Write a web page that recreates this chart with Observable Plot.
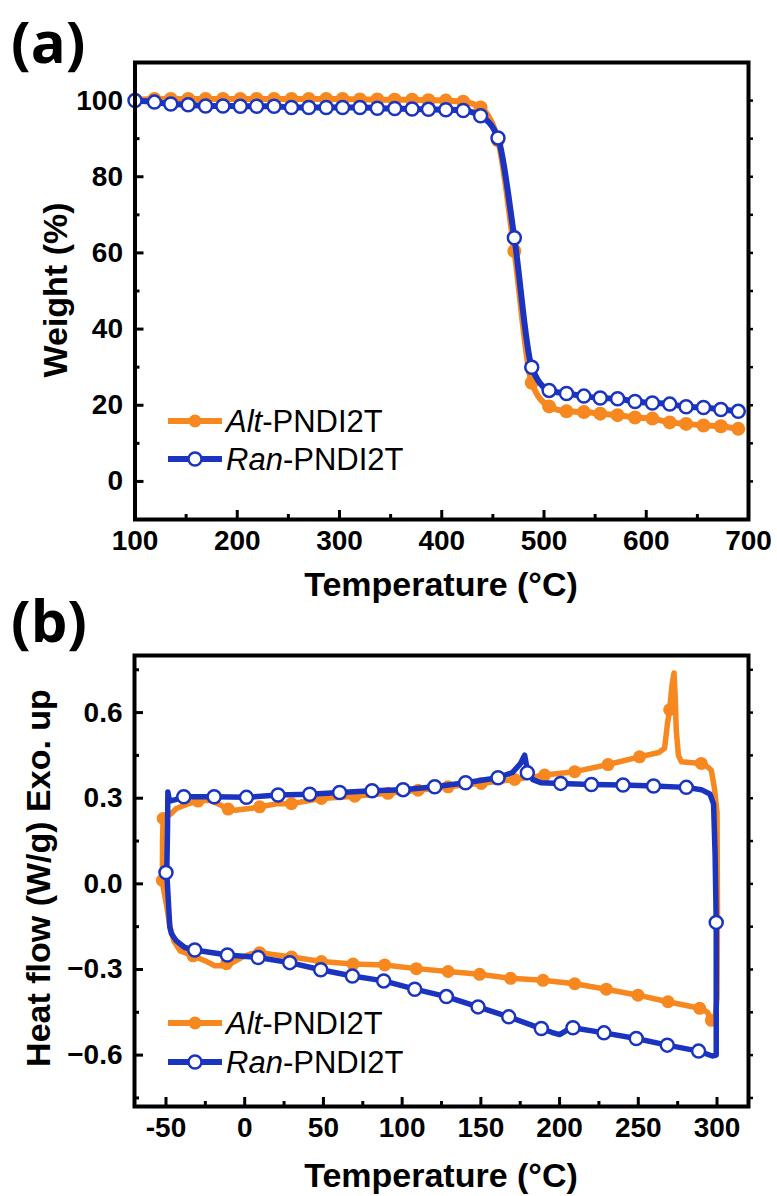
<!DOCTYPE html>
<html><head><meta charset="utf-8">
<script src="https://cdn.jsdelivr.net/npm/d3@7"></script>
<script src="https://cdn.jsdelivr.net/npm/@observablehq/plot@0.6"></script>
<style>
html,body{margin:0;padding:0;background:#fff;}
#wrap{position:relative;width:777px;height:1196px;overflow:hidden;background:#fff;}
#pa,#pb{position:absolute;left:0;}
#pa{top:0px}
#pb{top:590px}
#overlay{position:absolute;left:0;top:0;pointer-events:none;}
</style></head>
<body>
<div id="wrap">
<div id="pa"></div>
<div id="pb"></div>
<svg id="overlay" width="777" height="1196" xmlns="http://www.w3.org/2000/svg">
  <g font-family="'Open Sans', sans-serif" font-weight="bold" font-size="58" fill="#000">
    <text x="11" y="63">(a)</text>
    <text x="11" y="642">(b)</text>
  </g>
  <g font-family="'Liberation Sans', Arial, sans-serif" font-weight="bold" font-size="34" fill="#000" text-anchor="middle">
    <text x="441" y="596">Temperature (°C)</text>
    <text x="441" y="1187">Temperature (°C)</text>
    <text transform="translate(67,290) rotate(-90)">Weight (%)</text>
    <text transform="translate(50,878) rotate(-90)">Heat flow (W/g) Exo. up</text>
  </g>
  <g id="legends" font-family="'Liberation Sans', Arial, sans-serif" font-size="31" fill="#000"></g>
</svg>
</div>
<script>
// ---------- Panel (a): TGA ----------
const tgaTemp = [100, 119, 135, 152, 169, 186, 203, 219, 236, 253, 270, 287, 303, 320, 337, 354, 371, 387, 404, 421, 438, 455, 471, 488, 505, 522, 539, 555, 572, 589, 606, 623, 639, 656, 673, 690];
const tgaAlt  = [100.2, 100.4, 100.4, 100.4, 100.4, 100.4, 100.4, 100.4, 100.4, 100.4, 100.4, 100.4, 100.4, 100.3, 100.3, 100.2, 100.2, 100.1, 100.0, 99.7, 98.2, 89.6, 60.5, 25.9, 19.7, 18.4, 18.2, 17.8, 17.4, 16.8, 16.5, 15.5, 15.1, 14.7, 14.5, 13.8];
const tgaRan  = [100.0, 99.6, 99.1, 98.9, 98.6, 98.6, 98.5, 98.5, 98.5, 98.2, 98.2, 98.2, 98.2, 98.2, 98.0, 97.9, 97.8, 97.7, 97.6, 97.4, 96.0, 90.2, 64.0, 30.0, 23.9, 23.1, 22.4, 21.9, 21.7, 21.0, 20.6, 20.3, 19.6, 19.4, 18.9, 18.4];
const tgaXTicks = [100, 200, 300, 400, 500, 600, 700];
const tgaXMinor = [150, 250, 350, 450, 550, 650];
const tgaYTicks = [0, 20, 40, 60, 80, 100];
const tgaYMinor = [10, 30, 50, 70, 90];

// ---------- Panel (b): DSC (loop: heating top, cooling bottom) ----------
const dscAltLoop = [[-52.3,0.012],[-52.2,0.15],[-51.8,0.229],[-47,0.245],[-43.4,0.264],[-36,0.28],[-29.6,0.29],[-22.2,0.293],[-15,0.275],[-11.6,0.265],[-6.3,0.258],[4.3,0.265],[9.5,0.27],[21.2,0.281],[29.7,0.281],[48.7,0.299],[69.9,0.307],[91,0.317],[110.1,0.328],[129.2,0.34],[150.3,0.352],[171.5,0.366],[190.5,0.381],[209.6,0.393],[230.8,0.418],[250.8,0.445],[263,0.46],[266.7,0.475],[268.5,0.56],[269.9,0.61],[271.5,0.7],[272.7,0.739],[273.5,0.65],[274.1,0.539],[275.5,0.45],[277.3,0.428],[290,0.422],[294,0.41],[296.4,0.398],[298.5,0.33],[300,0.25],[300.3,-0.1],[300,-0.4],[298.8,-0.47],[296.4,-0.481],[294,-0.45],[289,-0.436],[268.9,-0.413],[249.8,-0.39],[229.7,-0.369],[209.6,-0.35],[189.5,-0.338],[168.9,-0.331],[149.2,-0.317],[129.2,-0.307],[109,-0.297],[88.9,-0.284],[68.8,-0.281],[48.7,-0.272],[29.7,-0.256],[9.5,-0.241],[4,-0.245],[-2,-0.258],[-9.5,-0.281],[-15,-0.287],[-19,-0.287],[-25,-0.27],[-32.8,-0.252],[-41,-0.235],[-45,-0.2],[-47.5,-0.15],[-49.5,-0.08],[-51.5,-0.02],[-52.3,0.012]];
const dscRanLoop = [[-49.5,0.04],[-49,0.2],[-48.8,0.322],[-47.8,0.29],[-44,0.295],[-38.7,0.305],[-19.4,0.305],[1.1,0.303],[21.2,0.311],[41.3,0.314],[60.3,0.32],[80.9,0.326],[100.6,0.33],[120.7,0.34],[140.3,0.354],[160.9,0.372],[170,0.39],[175,0.42],[177.8,0.451],[179.5,0.4],[183,0.365],[188.4,0.354],[200.7,0.352],[220.2,0.348],[240.3,0.346],[259.7,0.343],[280.5,0.338],[290,0.33],[295.5,0.315],[297.8,0.28],[298.8,0.1],[299.5,-0.135],[299.5,-0.6],[297,-0.603],[288.3,-0.586],[268.4,-0.565],[248.7,-0.542],[228.2,-0.522],[208.5,-0.504],[204,-0.515],[200,-0.528],[195,-0.52],[188.4,-0.507],[167.7,-0.466],[148.2,-0.431],[128.1,-0.395],[108,-0.369],[88.3,-0.34],[68.4,-0.323],[48.3,-0.301],[28.6,-0.276],[8.5,-0.258],[-11,-0.249],[-31.7,-0.232],[-38.1,-0.223],[-43.4,-0.2],[-46.5,-0.175],[-47.6,-0.15],[-48.3,-0.08],[-49.5,0.04]];
const dscAltMarkT = [-52.3, -51.8, -29.6, -10.5, 9.5, 29.7, 48.7, 69.9, 91, 110.1, 129.2, 150.3, 171.5, 190.5, 209.6, 230.8, 250.8, 269.9, 290, 296.4, 289, 268.9, 249.8, 229.7, 209.6, 189.5, 168.9, 149.2, 129.2, 109, 88.9, 68.8, 48.7, 29.7, 9.5, -11.6, -32.8];
const dscAltMarkV = [0.012, 0.229, 0.29, 0.262, 0.27, 0.281, 0.299, 0.307, 0.317, 0.328, 0.34, 0.352, 0.366, 0.381, 0.393, 0.418, 0.445, 0.61, 0.422, -0.478, -0.436, -0.413, -0.39, -0.369, -0.35, -0.338, -0.331, -0.317, -0.307, -0.297, -0.284, -0.281, -0.272, -0.256, -0.241, -0.28, -0.252];
const dscRanMarkT = [-50, -38.7, -19.4, 1.1, 21.2, 41.3, 60.3, 80.9, 100.6, 120.7, 140.3, 160.9, 179.5, 200.7, 220.2, 240.3, 259.7, 280.5, 299.5, 288.3, 268.4, 248.7, 228.2, 208.5, 188.4, 167.7, 148.2, 128.1, 108, 88.3, 68.4, 48.3, 28.6, 8.5, -11, -31.7];
const dscRanMarkV = [0.04, 0.305, 0.305, 0.303, 0.311, 0.314, 0.32, 0.326, 0.33, 0.34, 0.354, 0.372, 0.389, 0.352, 0.348, 0.346, 0.343, 0.338, -0.135, -0.586, -0.565, -0.542, -0.522, -0.504, -0.507, -0.466, -0.431, -0.395, -0.369, -0.34, -0.323, -0.301, -0.276, -0.258, -0.249, -0.232];
const dscXTicks = [-50, 0, 50, 100, 150, 200, 250, 300];
const dscXMinor = [-25, 25, 75, 125, 175, 225, 275];
const dscYTicks = [-0.6, -0.3, 0.0, 0.3, 0.6];
const dscYMinor = [-0.75, -0.45, -0.15, 0.15, 0.45, 0.75];

const seriesNames = ["Alt", "Ran"];

const ORANGE = "#f7871f";
const BLUE = "#1b34c0";
const FONT = "'Liberation Sans', Arial, sans-serif";

function axes(xT, xM, yT, yM, yFmt) {
  return [
    Plot.axisX({ticks: xT, tickSize: -9, tickPadding: 20, strokeWidth: 3, label: null, tickFormat: d => String(d)}),
    Plot.axisX({ticks: xM, tickSize: -5, strokeWidth: 3, label: null, tickFormat: () => ""}),
    Plot.axisY({ticks: yT, tickSize: -9, tickPadding: 21, strokeWidth: 3, label: null, tickFormat: yFmt}),
    Plot.axisY({ticks: yM, tickSize: -5, strokeWidth: 3, label: null, tickFormat: () => ""}),
    Plot.axisY({anchor: "right", ticks: [...yT, ...yM], tickSize: 4, strokeWidth: 2.5, label: null, tickFormat: () => ""})
  ];
}

const tgaA = tgaTemp.map((t, i) => ({t, w: tgaAlt[i]}));
const tgaR = tgaTemp.map((t, i) => ({t, w: tgaRan[i]}));

const chartA = Plot.plot({
  width: 777, height: 590,
  marginTop: 62, marginBottom: 71, marginLeft: 134.5, marginRight: 29,
  x: {domain: [100, 700]},
  y: {domain: [-10, 110]},
  style: {fontFamily: FONT, fontSize: "28px", fontWeight: "bold", color: "#000", background: "transparent", overflow: "visible"},
  marks: [
    ...axes(tgaXTicks, tgaXMinor, tgaYTicks, tgaYMinor, d => String(d)),
    Plot.line(tgaA, {x: "t", y: "w", stroke: ORANGE, strokeWidth: 6, curve: "monotone-x"}),
    Plot.dot(tgaA, {x: "t", y: "w", fill: ORANGE, r: 7}),
    Plot.line(tgaR, {x: "t", y: "w", stroke: BLUE, strokeWidth: 6, curve: "monotone-x"}),
    Plot.dot(tgaR, {x: "t", y: "w", fill: "white", stroke: BLUE, strokeWidth: 2.5, r: 6.5}),
    Plot.frame({stroke: "#000", strokeWidth: 4})
  ]
});
document.getElementById("pa").appendChild(chartA);

const altMarks = dscAltMarkT.map((t, i) => ({t, v: dscAltMarkV[i]}));
const ranMarks = dscRanMarkT.map((t, i) => ({t, v: dscRanMarkV[i]}));

const chartB = Plot.plot({
  width: 777, height: 606,
  marginTop: 65, marginBottom: 90, marginLeft: 134, marginRight: 29,
  x: {domain: [-70, 320]},
  y: {domain: [-0.78, 0.8]},
  style: {fontFamily: FONT, fontSize: "28px", fontWeight: "bold", color: "#000", background: "transparent", overflow: "visible"},
  marks: [
    ...axes(dscXTicks, dscXMinor, dscYTicks, dscYMinor, d => d3.format(".1f")(d)),
    Plot.line(dscAltLoop, {x: d => d[0], y: d => d[1], stroke: ORANGE, strokeWidth: 5.5}),
    Plot.dot(altMarks, {x: "t", y: "v", fill: ORANGE, r: 6.5}),
    Plot.line(dscRanLoop, {x: d => d[0], y: d => d[1], stroke: BLUE, strokeWidth: 5.5}),
    Plot.dot(ranMarks, {x: "t", y: "v", fill: "white", stroke: BLUE, strokeWidth: 2.5, r: 6.5}),
    Plot.frame({stroke: "#000", strokeWidth: 4})
  ]
});
document.getElementById("pb").appendChild(chartB);

// ---------- Legends (overlay) ----------
const NS = "http://www.w3.org/2000/svg";
const lg = document.getElementById("legends");
function legendRow(y, name) {
  const isAlt = name === "Alt";
  const col = isAlt ? ORANGE : BLUE;
  const line = document.createElementNS(NS, "line");
  line.setAttribute("x1", 168); line.setAttribute("x2", 222);
  line.setAttribute("y1", y); line.setAttribute("y2", y);
  line.setAttribute("stroke", col); line.setAttribute("stroke-width", 6);
  lg.appendChild(line);
  const c = document.createElementNS(NS, "circle");
  c.setAttribute("cx", 195); c.setAttribute("cy", y); c.setAttribute("r", 6.5);
  c.setAttribute("fill", isAlt ? ORANGE : "white");
  if (!isAlt) { c.setAttribute("stroke", BLUE); c.setAttribute("stroke-width", 2.5); }
  lg.appendChild(c);
  const t = document.createElementNS(NS, "text");
  t.setAttribute("x", 226); t.setAttribute("y", y + 11);
  const it = document.createElementNS(NS, "tspan");
  it.setAttribute("font-style", "italic");
  it.textContent = name;
  t.appendChild(it);
  t.appendChild(document.createTextNode("-PNDI2T"));
  lg.appendChild(t);
}
legendRow(421, seriesNames[0]);
legendRow(459, seriesNames[1]);
legendRow(1023, seriesNames[0]);
legendRow(1062, seriesNames[1]);
</script>
</body></html>
